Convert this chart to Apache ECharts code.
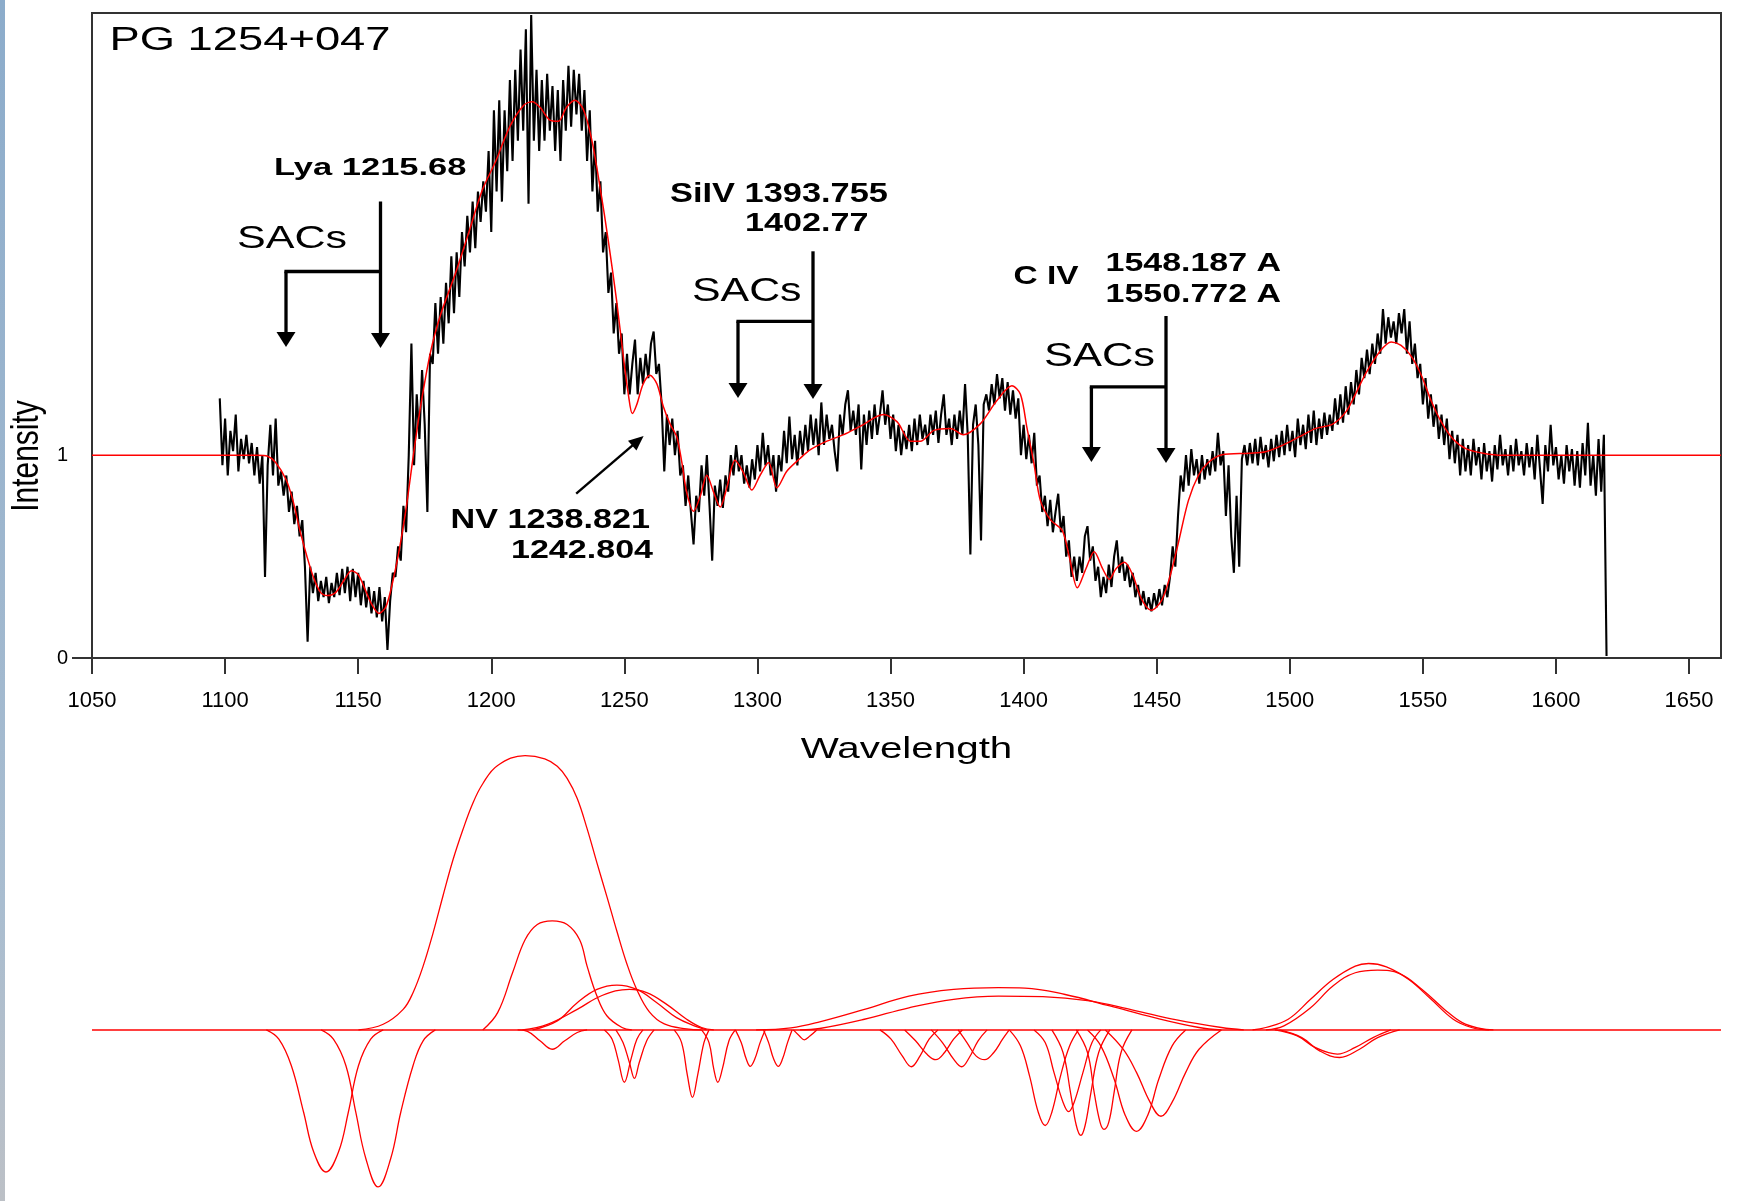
<!DOCTYPE html>
<html>
<head>
<meta charset="utf-8">
<title>PG 1254+047</title>
<script src="https://cdn.jsdelivr.net/npm/echarts@6/dist/echarts.min.js"></script>
<style>
  html, body { margin: 0; padding: 0; background: #fff; }
  #chart { width: 1744px; height: 1201px; }
</style>
</head>
<body>
<div id="chart"></div>
<script>
// axis ticks
var waveTicks = [1050, 1100, 1150, 1200, 1250, 1300, 1350, 1400, 1450, 1500, 1550, 1600, 1650];
var intensityLabels = [0, 1];

// observed spectrum, one value per Angstrom starting at specStart
var specStart = 1098;
var specFlux = [
  1.28, 0.95, 1.18, 0.9, 1.12, 1.02, 1.2, 0.92, 1.08, 0.98,     // 1098
  1.1, 0.96, 1.06, 0.9, 1.04, 0.86, 1.0, 0.4, 0.95, 1.15,       // 1108
  0.9, 1.18, 0.85, 0.92, 0.8, 0.9, 0.72, 0.82, 0.66, 0.75,      // 1118
  0.6, 0.68, 0.45, 0.08, 0.45, 0.32, 0.42, 0.28, 0.38, 0.3,     // 1128
  0.4, 0.27, 0.37, 0.3, 0.42, 0.31, 0.44, 0.32, 0.45, 0.28,     // 1138
  0.44, 0.3, 0.42, 0.26, 0.38, 0.25, 0.35, 0.22, 0.33, 0.2,     // 1148
  0.35, 0.18, 0.3, 0.04, 0.28, 0.42, 0.4, 0.55, 0.48, 0.75,     // 1158
  0.62, 1.0, 1.55, 0.95, 1.3, 1.08, 1.42, 1.15, 0.72, 1.5,      // 1168
  1.45, 1.75, 1.5, 1.78, 1.55, 1.85, 1.65, 1.98, 1.7, 2.0,      // 1178
  1.78, 2.1, 1.93, 2.18, 2.0, 2.25, 2.02, 2.3, 2.15, 2.35,      // 1188
  2.2, 2.5, 2.1, 2.7, 2.3, 2.75, 2.25, 2.7, 2.4, 2.85,          // 1198
  2.45, 2.9, 2.55, 3.0, 2.6, 3.1, 2.24, 3.17, 2.55, 2.9,        // 1208
  2.5, 2.85, 2.55, 2.88, 2.6, 2.82, 2.5, 2.8, 2.45, 2.85,       // 1218
  2.6, 2.92, 2.62, 2.9, 2.68, 2.88, 2.6, 2.8, 2.45, 2.7,        // 1228
  2.3, 2.55, 2.2, 2.35, 2.0, 2.1, 1.8, 1.9, 1.6, 1.75,          // 1238
  1.5, 1.6, 1.3, 1.5, 1.3, 1.45, 1.57, 1.3, 1.48, 1.35,         // 1248
  1.5, 1.38, 1.55, 1.61, 1.4, 1.45, 1.25, 0.92, 1.2, 1.05,      // 1258
  1.18, 1.0, 1.12, 0.9, 0.95, 0.75, 0.9, 0.72, 0.56, 0.8,       // 1268
  0.72, 0.95, 0.8, 1.0, 0.75, 0.48, 0.85, 0.75, 0.88, 0.74,     // 1278
  0.9, 0.82, 1.0, 0.9, 1.05, 0.92, 1.0, 0.86, 0.95, 0.84,       // 1288
  0.98, 0.88, 1.05, 0.92, 1.11, 0.95, 1.05, 0.9, 1.0, 0.82,     // 1298
  1.0, 0.92, 1.12, 0.96, 1.19, 0.98, 1.1, 0.95, 1.12, 1.0,      // 1308
  1.15, 1.02, 1.2, 1.05, 1.18, 1.0, 1.26, 1.05, 1.2, 1.08,      // 1318
  1.15, 1.02, 0.92, 1.2, 1.1, 1.25, 1.32, 1.12, 1.22, 1.1,      // 1328
  1.25, 0.93, 1.2, 1.05, 1.22, 1.08, 1.25, 1.1, 1.2, 1.32,      // 1338
  1.15, 1.25, 1.08, 1.2, 1.02, 1.15, 1.0, 1.12, 1.03, 1.15,     // 1348
  1.02, 1.18, 1.05, 1.2, 1.08, 1.15, 1.05, 1.2, 1.1, 1.22,      // 1358
  1.06, 1.2, 1.3, 1.1, 1.18, 1.05, 1.2, 1.08, 1.22, 1.1,        // 1368
  1.35, 1.1, 0.51, 1.15, 1.25, 1.05, 0.58, 1.25, 1.3, 1.22,     // 1378
  1.35, 1.25, 1.4, 1.28, 1.38, 1.22, 1.36, 1.2, 1.32, 1.18,     // 1388
  1.28, 1.0, 1.15, 0.98, 1.1, 0.96, 1.11, 0.85, 0.9, 0.72,      // 1398
  0.8, 0.65, 0.78, 0.62, 0.72, 0.81, 0.62, 0.7, 0.5, 0.58,      // 1408
  0.4, 0.5, 0.38, 0.5, 0.42, 0.6, 0.65, 0.48, 0.55, 0.38,       // 1418
  0.45, 0.3, 0.4, 0.32, 0.46, 0.35, 0.5, 0.58, 0.42, 0.5,       // 1428
  0.38, 0.46, 0.35, 0.42, 0.3, 0.36, 0.26, 0.33, 0.24, 0.3,     // 1438
  0.23, 0.32, 0.25, 0.34, 0.26, 0.36, 0.3, 0.4, 0.55, 0.45,     // 1448
  0.7, 0.9, 0.82, 1.0, 0.85, 1.03, 0.9, 0.98, 0.86, 1.0,        // 1458
  0.88, 0.98, 0.9, 1.02, 0.92, 1.11, 0.95, 1.02, 0.7, 0.95,     // 1468
  0.6, 0.42, 0.8, 0.45, 0.98, 1.05, 0.95, 1.06, 0.96, 1.08,     // 1478
  0.95, 1.09, 0.98, 1.05, 0.94, 1.08, 0.97, 1.1, 0.99, 1.12,    // 1488
  1.0, 1.15, 1.02, 1.12, 0.99, 1.18, 1.05, 1.15, 1.03, 1.2,     // 1498
  1.06, 1.22, 1.05, 1.18, 1.08, 1.21, 1.1, 1.2, 1.12, 1.28,     // 1508
  1.15, 1.3, 1.16, 1.34, 1.2, 1.36, 1.25, 1.42, 1.3, 1.48,      // 1518
  1.38, 1.52, 1.4, 1.55, 1.45, 1.6, 1.5, 1.72, 1.55, 1.68,      // 1528
  1.58, 1.66, 1.55, 1.7, 1.6, 1.72, 1.5, 1.66, 1.45, 1.55,      // 1538
  1.38, 1.45, 1.25, 1.38, 1.18, 1.3, 1.14, 1.25, 1.08, 1.2,     // 1548
  1.05, 1.18, 0.98, 1.12, 0.96, 1.1, 0.9, 1.08, 0.92, 1.05,     // 1558
  0.9, 1.08, 0.95, 1.04, 0.88, 1.06, 0.92, 1.02, 0.87, 1.05,    // 1568
  0.93, 1.1, 0.95, 1.03, 0.9, 1.05, 0.92, 1.08, 0.95, 1.02,     // 1578
  0.9, 1.06, 0.94, 1.04, 0.88, 1.1, 0.93, 0.76, 1.05, 0.92,     // 1588
  1.15, 0.95, 1.04, 0.88, 1.0, 0.86, 1.05, 0.92, 1.03, 0.85,    // 1598
  1.02, 0.84, 1.06, 0.9, 1.16, 0.85, 1.0, 0.8, 1.08, 0.82,      // 1608
  1.1, 0.01                                                     // 1618
];

// model fit [wavelength, intensity]
var fitCurve = [
  [1050, 1.0], [1112, 1.0], [1116, 0.995], [1119, 0.964], [1122.9, 0.88], [1125.5, 0.776],
  [1128.1, 0.629], [1130.7, 0.503], [1133.2, 0.398], [1135.8, 0.325], [1138.4, 0.308],
  [1141.7, 0.325], [1144.9, 0.388], [1147.5, 0.43], [1150.1, 0.409], [1152.7, 0.335],
  [1155.2, 0.262], [1157.8, 0.22], [1160.4, 0.252], [1163, 0.377], [1165.6, 0.545],
  [1168.2, 0.755], [1170.8, 1.006], [1173.4, 1.237], [1177.2, 1.509], [1181.1, 1.698],
  [1186.3, 1.887], [1191.5, 2.096], [1196.6, 2.306], [1201.8, 2.453], [1207, 2.621],
  [1212.2, 2.725], [1215.4, 2.742], [1218.3, 2.715], [1222, 2.652], [1225.2, 2.646],
  [1228.3, 2.715], [1231.4, 2.75], [1234.6, 2.704], [1237.7, 2.558], [1240.8, 2.327],
  [1244, 2.054], [1247.1, 1.761], [1249.6, 1.488], [1251.5, 1.3], [1253, 1.205],
  [1254.6, 1.247], [1257.1, 1.352], [1259.6, 1.394], [1262.2, 1.352], [1264.7, 1.237],
  [1267.2, 1.153], [1269.7, 1.09], [1271.6, 0.964], [1273.4, 0.818], [1276, 0.723],
  [1278.5, 0.797], [1281, 0.901], [1283.5, 0.818], [1286, 0.744], [1288.5, 0.839],
  [1291.6, 0.975], [1294.8, 0.912], [1297.9, 0.828], [1301, 0.901], [1304.2, 0.964],
  [1307.3, 0.839], [1311.1, 0.922], [1316.1, 0.985], [1319.9, 1.027], [1326.1, 1.069],
  [1332.4, 1.101], [1338.7, 1.143], [1347.4, 1.2], [1352.5, 1.164], [1357.5, 1.069],
  [1361.2, 1.069], [1366.3, 1.122], [1372.5, 1.132], [1377.3, 1.101], [1383.6, 1.153],
  [1389.9, 1.268], [1395.6, 1.342], [1398.8, 1.3], [1401.3, 1.132], [1403.8, 0.964],
  [1406.3, 0.776], [1410.1, 0.681], [1414.5, 0.629], [1417.1, 0.503], [1420.2, 0.346],
  [1423.4, 0.44], [1426.5, 0.524], [1429.7, 0.44], [1432.2, 0.388], [1434.7, 0.44],
  [1437.9, 0.472], [1441, 0.409], [1444.2, 0.293], [1448, 0.235], [1451.8, 0.283],
  [1454.9, 0.398], [1458.1, 0.566], [1461.9, 0.776], [1465.7, 0.901], [1469.4, 0.964],
  [1474.5, 1.002], [1484.6, 1.01], [1490.9, 1.017], [1497.2, 1.048], [1503.5, 1.09],
  [1509.8, 1.132], [1516.1, 1.153], [1521.2, 1.216], [1525, 1.31], [1528.6, 1.405],
  [1533.7, 1.509], [1538.1, 1.558], [1541.8, 1.541], [1545.6, 1.488], [1549.4, 1.394],
  [1553.1, 1.268], [1556.9, 1.164], [1561.3, 1.08], [1566.3, 1.031], [1572.6, 1.01],
  [1580.1, 1.0], [1662, 1.0]
];

// fitted emission components (lower panel)
var emissionComps = [
  [[1150.1, 0], [1159.4, 0.028], [1166.9, 0.102], [1170.6, 0.185], [1174.4, 0.317], [1178.1, 0.48],
   [1181.8, 0.663], [1185.6, 0.844], [1189.3, 0.993], [1193.0, 1.124], [1196.8, 1.223], [1202.4, 1.314],
   [1212.7, 1.363], [1220.1, 1.347], [1224.8, 1.31], [1228.5, 1.25], [1232.3, 1.15], [1236.0, 1.0],
   [1239.7, 0.83], [1243.5, 0.66], [1247.2, 0.49], [1250.9, 0.33], [1254.7, 0.2], [1259.4, 0.09],
   [1265.0, 0.03], [1273.4, 0.005], [1279.0, 0]],
  [[1196.8, 0], [1202.4, 0.086], [1208.0, 0.284], [1212.7, 0.448], [1217.3, 0.524], [1222.9, 0.542],
   [1228.5, 0.524], [1233.2, 0.448], [1236.0, 0.317], [1239.7, 0.168], [1243.5, 0.069], [1249.1, 0.012], [1252.8, 0]],
  [[1215.5, 0], [1224.8, 0.045], [1232.3, 0.135], [1239.7, 0.201], [1247.2, 0.223], [1254.7, 0.201],
   [1262.2, 0.135], [1269.6, 0.061], [1277.1, 0.016], [1280.9, 0]],
  [[1211.7, 0], [1221.1, 0.028], [1232.3, 0.102], [1241.6, 0.171], [1251.9, 0.201], [1258.4, 0.185],
   [1265.9, 0.127], [1273.4, 0.053], [1279.0, 0.012], [1283.6, 0]],
  [[1299.5, 0], [1312.6, 0.01], [1323.4, 0.04], [1340.2, 0.102], [1356.9, 0.168], [1373.7, 0.201],
   [1390.5, 0.21], [1400.5, 0.208], [1415.6, 0.176], [1432.4, 0.119], [1449.1, 0.061], [1465.9, 0.012], [1474.3, 0]],
  [[1316, 0], [1323.4, 0.007], [1340.2, 0.053], [1356.9, 0.11], [1373.7, 0.152], [1390.5, 0.168],
   [1407.2, 0.165], [1424, 0.145], [1440.7, 0.1], [1457.5, 0.05], [1474.3, 0.012], [1482.7, 0]],
  [[1486, 0], [1491, 0.012], [1499.4, 0.053], [1507.8, 0.152], [1516.2, 0.25], [1524.6, 0.317],
   [1529.6, 0.33], [1536.3, 0.313], [1544.7, 0.25], [1553.1, 0.152], [1561.4, 0.053], [1568.2, 0.012], [1574.9, 0]],
  [[1491, 0], [1497.8, 0.02], [1507.8, 0.11], [1516.2, 0.218], [1524.6, 0.284], [1533, 0.297],
   [1541.3, 0.28], [1549.7, 0.201], [1558.1, 0.102], [1564.8, 0.036], [1571.5, 0.007], [1576.5, 0]]
];

// fitted absorption components (lower panel)
var absorptionComps = [
  [[1115.5, 0], [1120.2, -0.046], [1124.9, -0.178], [1129.5, -0.409], [1133.3, -0.607], [1137.9, -0.706],
   [1142.6, -0.607], [1146.3, -0.409], [1150.1, -0.178], [1154.7, -0.046], [1159.4, 0]],
  [[1136.1, 0], [1140.7, -0.046], [1145.4, -0.178], [1149.1, -0.409], [1152.9, -0.64], [1157.5, -0.78],
   [1162.2, -0.64], [1166.0, -0.409], [1170.6, -0.178], [1174.4, -0.054], [1179.0, 0]],
  [[1209.9, 0], [1213.6, -0.007], [1218.3, -0.054], [1222.9, -0.096], [1227.6, -0.054], [1232.3, -0.013], [1236, 0]],
  [[1242.5, 0], [1245.4, -0.046], [1247.6, -0.145], [1250.0, -0.26], [1252.5, -0.145], [1254.7, -0.046], [1257.0, 0]],
  [[1246.8, 0], [1249.5, -0.063], [1251.9, -0.162], [1253.8, -0.241], [1255.6, -0.162], [1258.4, -0.054], [1261.2, 0]],
  [[1268.7, 0], [1271.5, -0.063], [1273.7, -0.227], [1275.6, -0.335], [1277.5, -0.227], [1279.9, -0.063], [1281.8, 0]],
  [[1279.0, 0], [1281.8, -0.063], [1283.6, -0.195], [1285.1, -0.26], [1286.8, -0.195], [1289.3, -0.054], [1291.7, 0]],
  [[1291.7, 0], [1293.9, -0.063], [1295.8, -0.145], [1297.3, -0.181], [1299.0, -0.145], [1301.0, -0.063], [1302.9, 0]],
  [[1302.3, 0], [1304.2, -0.063], [1306.1, -0.145], [1307.8, -0.181], [1309.4, -0.145], [1311.3, -0.063], [1313.0, 0]],
  [[1313.5, 0], [1315.8, -0.03], [1317.6, -0.049], [1319.7, -0.03], [1322.3, 0]],
  [[1346, 0], [1350.2, -0.046], [1354.4, -0.129], [1357.8, -0.183], [1361.1, -0.129], [1364.5, -0.046], [1367.8, 0]],
  [[1355.3, 0], [1359.4, -0.054], [1363.6, -0.12], [1367, -0.148], [1370.3, -0.112], [1373.7, -0.046], [1377, 0]],
  [[1365.3, 0], [1369.5, -0.063], [1373.7, -0.145], [1376.7, -0.183], [1379.6, -0.137], [1382.9, -0.054], [1386.3, 0]],
  [[1375.4, 0], [1378.7, -0.063], [1382.1, -0.129], [1385.4, -0.148], [1388.8, -0.112], [1392.1, -0.046], [1394.6, 0]],
  [[1394.6, 0], [1398.8, -0.079], [1402.2, -0.227], [1405.5, -0.409], [1408.1, -0.475], [1410.6, -0.409],
   [1413.9, -0.227], [1417.3, -0.079], [1420.6, 0]],
  [[1403.9, 0], [1408.1, -0.063], [1411.4, -0.211], [1414.8, -0.359], [1416.9, -0.406], [1419, -0.359],
   [1422.3, -0.211], [1425.7, -0.063], [1429, 0]],
  [[1410.6, 0], [1414.8, -0.112], [1417.6, -0.31], [1419.8, -0.475], [1421.5, -0.524], [1423.1, -0.475],
   [1425.3, -0.31], [1428.2, -0.112], [1432.4, 0]],
  [[1419.8, 0], [1424, -0.112], [1426.5, -0.31], [1428.7, -0.458], [1430.2, -0.494], [1432, -0.458],
   [1434, -0.31], [1436.6, -0.112], [1440.7, 0]],
  [[1424, 0], [1429, -0.079], [1434, -0.244], [1438.2, -0.425], [1442.4, -0.504], [1446.6, -0.425],
   [1450.8, -0.244], [1455.8, -0.079], [1460.9, 0]],
  [[1430.7, 0], [1437.4, -0.096], [1442.4, -0.211], [1447.5, -0.359], [1451.6, -0.429], [1455.8, -0.359],
   [1460.9, -0.211], [1465.9, -0.096], [1474.3, 0]],
  [[1496.1, 0], [1504.5, -0.038], [1511.2, -0.104], [1518.7, -0.137], [1526.2, -0.096], [1533, -0.038], [1541.3, 0]],
  [[1494.4, 0], [1502.8, -0.03], [1509.5, -0.087], [1517.9, -0.12], [1524.6, -0.087], [1531.3, -0.038], [1538, 0]]
];

var FONT = '"Liberation Sans", Arial, sans-serif';
var RED = '#ff0000';

var chart = echarts.init(document.getElementById('chart'));

var specData = specFlux.map(function (v, i) { return [specStart + i, v]; });

var series = [
  {
    type: 'line', xAxisIndex: 0, yAxisIndex: 0, data: specData,
    symbol: 'none', lineStyle: { color: '#000', width: 2.1 }, z: 2, silent: true
  },
  {
    type: 'line', xAxisIndex: 0, yAxisIndex: 0, data: fitCurve, smooth: 0.3,
    symbol: 'none', lineStyle: { color: RED, width: 1.5 }, z: 3, silent: true
  }
];

emissionComps.concat(absorptionComps).forEach(function (comp, i) {
  var s = {
    type: 'line', xAxisIndex: 1, yAxisIndex: 1, data: comp, smooth: 0.4,
    symbol: 'none', lineStyle: { color: RED, width: 1.3 }, silent: true
  };
  if (i === 0) {
    // zero level of the component panel
    s.markLine = {
      silent: true, symbol: 'none', label: { show: false },
      lineStyle: { color: RED, width: 1.5, type: 'solid' },
      data: [{ yAxis: 0 }]
    };
  }
  series.push(s);
});

// annotation texts: left/right edges, cap top and baseline in pixels
var labels = [
  { text: 'PG 1254+047', left: 109.5, right: 390.5, top: 29.5, base: 52.7, bold: false },
  { text: 'Lya 1215.68', left: 274, right: 466.5, top: 159.3, base: 177, bold: true },
  { text: 'SACs', left: 237, right: 347, top: 228, base: 250.5, bold: false },
  { text: 'SiIV 1393.755', left: 670, right: 888, top: 185, base: 204.5, bold: true },
  { text: '1402.77', left: 745, right: 868.5, top: 214, base: 233, bold: true },
  { text: 'SACs', left: 692, right: 801.5, top: 280.3, base: 303.5, bold: false },
  { text: 'NV 1238.821', left: 450.5, right: 650, top: 511, base: 530.3, bold: true },
  { text: '1242.804', left: 511, right: 653, top: 541.5, base: 560, bold: true },
  { text: 'C IV', left: 1013.5, right: 1078.5, top: 267.5, base: 286, bold: true },
  { text: '1548.187 A', left: 1105.5, right: 1281, top: 255, base: 273.5, bold: true },
  { text: '1550.772 A', left: 1105.5, right: 1281, top: 285.5, base: 304.3, bold: true },
  { text: 'SACs', left: 1044, right: 1155, top: 345, base: 368.6, bold: false },
  { text: 'Wavelength', left: 800.7, right: 1012.3, top: 738.3, base: 760, bold: false }
];

var measureCtx = document.createElement('canvas').getContext('2d');
function textWidth(str, size, weight) {
  measureCtx.font = weight + ' ' + size + 'px "Liberation Sans"';
  return measureCtx.measureText(str).width;
}

var graphics = [];

// bluish strip on the left edge
graphics.push({
  type: 'rect', silent: true, z: 0,
  shape: { x: 0, y: 0, width: 5, height: 1201 },
  style: {
    fill: new echarts.graphic.LinearGradient(0, 0, 0, 1, [
      { offset: 0, color: '#8caccb' }, { offset: 0.75, color: '#a9bdd0' }, { offset: 1, color: '#bcc0c6' }
    ])
  }
});

labels.forEach(function (t) {
  var size = (t.base - t.top) / 0.716;
  var weight = t.bold ? 'bold' : 'normal';
  var w = textWidth(t.text, size, weight);
  graphics.push({
    type: 'text', silent: true, z: 10,
    x: t.left, y: (t.top + t.base) / 2, scaleX: (t.right - t.left) / w,
    style: {
      text: t.text, fontSize: size, fontWeight: weight, fontFamily: FONT, fill: '#000',
      align: 'left', verticalAlign: 'middle', textAlign: 'left', textVerticalAlign: 'middle'
    }
  });
});

// rotated y axis title
(function () {
  var size = 39.6;
  var w = textWidth('Intensity', size, 'normal');
  graphics.push({
    type: 'text', silent: true, z: 10,
    x: 27.5, y: 456, rotation: Math.PI / 2, scaleX: 111.7 / w,
    style: {
      text: 'Intensity', fontSize: size, fontFamily: FONT, fill: '#000',
      align: 'center', verticalAlign: 'middle', textAlign: 'center', textVerticalAlign: 'middle'
    }
  });
})();

function seg(x1, y1, x2, y2, w) {
  graphics.push({
    type: 'line', silent: true, z: 10,
    shape: { x1: x1, y1: y1, x2: x2, y2: y2 },
    style: { stroke: '#000', lineWidth: w }
  });
}
function head(x1, y1, x2, y2, len, half) {
  var dx = x2 - x1, dy = y2 - y1, d = Math.sqrt(dx * dx + dy * dy);
  var ux = dx / d, uy = dy / d;
  var bx = x2 - ux * len, by = y2 - uy * len;
  graphics.push({
    type: 'polygon', silent: true, z: 10,
    shape: { points: [[x2, y2], [bx - uy * half, by + ux * half], [bx + uy * half, by - ux * half]] },
    style: { fill: '#000' }
  });
}
function arrow(x1, y1, x2, y2, w, len, half) {
  var dx = x2 - x1, dy = y2 - y1, d = Math.sqrt(dx * dx + dy * dy);
  seg(x1, y1, x2 - dx / d * (len - 2), y2 - dy / d * (len - 2), w);
  head(x1, y1, x2, y2, len, half);
}
// bracket: right arm from top, horizontal bar, left arm
function bracket(xl, xr, yTop, yBar, yTip) {
  arrow(xr, yTop, xr, yTip, 3.3, 15, 9.5);
  seg(xl - 1.6, yBar, xr, yBar, 3.3);
  arrow(xl, yBar, xl, yTip - 1, 3.3, 15, 9.5);
}
bracket(286, 380.5, 201.5, 271.5, 348);
bracket(738, 813, 251.3, 321.4, 399);
bracket(1091.4, 1166, 316, 386.8, 463);
arrow(576.2, 493.6, 643.6, 435.9, 2.4, 15, 6.5);

var option = {
  animation: false,
  backgroundColor: '#fff',
  grid: [
    { left: 92, top: 13, width: 1629, height: 645, show: true, borderColor: '#333', borderWidth: 2, backgroundColor: 'transparent' },
    { left: 92, top: 728, width: 1629, height: 475 }
  ],
  xAxis: [
    {
      gridIndex: 0, type: 'value', min: 1050, max: 1662, interval: 50,
      axisLine: { show: true, onZero: false, lineStyle: { color: '#333', width: 2 } },
      axisTick: { show: true, length: 16, customValues: waveTicks, lineStyle: { color: '#333', width: 2 } },
      axisLabel: {
        customValues: waveTicks, margin: 32, fontSize: 22, color: '#000', fontFamily: FONT,
        formatter: function (v) { return String(v); }
      },
      splitLine: { show: false }
    },
    { gridIndex: 1, type: 'value', min: 1050, max: 1662, show: false, splitLine: { show: false } }
  ],
  yAxis: [
    {
      gridIndex: 0, type: 'value', min: 0, max: 3.18,
      axisLine: { show: true, onZero: false, lineStyle: { color: '#333', width: 2 } },
      axisTick: { show: true, length: 20, customValues: [0], lineStyle: { color: '#333', width: 2 } },
      axisLabel: {
        customValues: intensityLabels, margin: 24, fontSize: 20, color: '#000', fontFamily: FONT,
        formatter: function (v) { return String(v); }
      },
      splitLine: { show: false }
    },
    { gridIndex: 1, type: 'value', min: -0.85, max: 1.5, show: false, splitLine: { show: false } }
  ],
  series: series,
  graphic: graphics
};

chart.setOption(option);
</script>
</body>
</html>
